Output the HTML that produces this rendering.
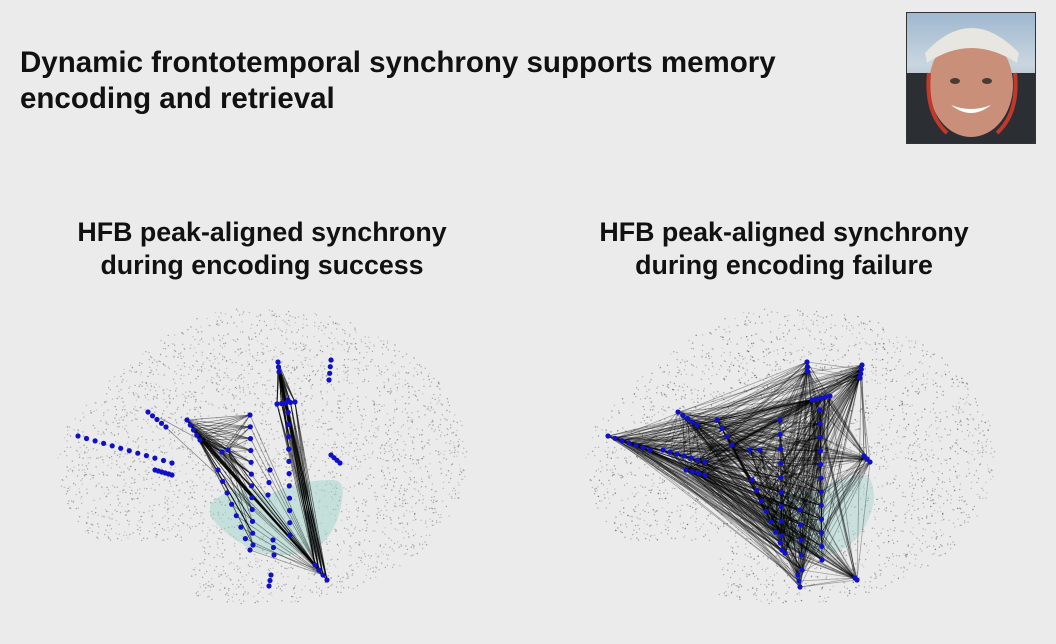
<!DOCTYPE html>
<html><head><meta charset="utf-8"><style>
html,body{margin:0;padding:0}
body{width:1056px;height:644px;background:#ebebeb;position:relative;overflow:hidden;font-family:"Liberation Sans",sans-serif}
.t{position:absolute;left:20px;top:45px;font-size:29.5px;font-weight:bold;color:#111;line-height:36px;white-space:nowrap}
.s{position:absolute;width:480px;text-align:center;font-size:26.8px;font-weight:bold;color:#111;line-height:33px;top:216px;white-space:nowrap}
#ph{position:absolute;left:906px;top:12px;width:130px;height:132px;border:1px solid #333;box-sizing:border-box;background:linear-gradient(#9fb8cf,#c9d6e0 40%,#6a6f74);overflow:hidden}
svg{position:absolute;left:0;top:0}
</style></head><body>
<div class="t">Dynamic frontotemporal synchrony supports memory<br>encoding and retrieval</div>
<div class="s" style="left:22px">HFB peak-aligned synchrony<br>during encoding success</div>
<div class="s" style="left:544px">HFB peak-aligned synchrony<br>during encoding failure</div>
<div id="ph">
<svg width="130" height="132" viewBox="0 0 130 132">
<rect x="0" y="60" width="130" height="72" fill="#2b2f33"/>
<ellipse cx="64" cy="72" rx="42" ry="52" fill="#c98f78"/>
<path d="M18 40 Q64 -10 112 40 L110 50 Q64 20 20 50Z" fill="#e8e6e0"/>
<path d="M22 60 Q18 100 40 120 M108 60 Q112 100 90 120" stroke="#c0392b" stroke-width="4" fill="none"/>
<path d="M44 92 Q64 108 84 92 Q64 100 44 92Z" fill="#fff"/>
<ellipse cx="48" cy="68" rx="5" ry="3" fill="#4a3a30"/><ellipse cx="80" cy="68" rx="5" ry="3" fill="#4a3a30"/>
</svg></div>
<svg id="g" width="1056" height="644"></svg>
<script>
var s=1234567;function r(){s=(s*1103515245+12345)%2147483648;return s/2147483648;}
var g=document.getElementById('g'),h=[];
function brain(cx,cy){
 for(var i=0;i<3200;i++){var x=r()*2-1,y=r()*2-1;
  var top = x>-0.3? 1:1-(( -0.3-x)*0.5);
  if(x*x+ (y<0? (y/top)*(y/top): y*y*1.05)>1) {i--;continue;}
  if(y>0.55 && x<-0.35) {i--;continue;}
  var px=cx+x*205, py=cy+y*150;
  h.push('<circle cx="'+px.toFixed(1)+'" cy="'+py.toFixed(1)+'" r="0.7" fill="#666" opacity="'+(0.25+r()*0.4).toFixed(2)+'"/>');}
}
brain(262,458);brain(790,458);
h.push('<path d="M210 505 Q232 480 268 495 Q300 480 330 480 Q346 478 342 500 Q338 530 318 548 Q290 560 258 552 Q222 535 210 515Z" fill="#9fd3cc" opacity="0.5"/>');
h.push('<path d="M760 505 Q785 485 815 490 Q845 475 868 475 Q880 495 868 520 Q855 550 825 555 Q790 555 765 530Z" fill="#9fd3cc" opacity="0.45"/>');
function strip(a,b,c,n,arr){for(var i=0;i<n;i++){var t=n>1?i/(n-1):0;arr.push([a+(c[0]-a)*t,b+(c[1]-b)*t]);}}
function drawNodes(arr){arr.forEach(function(p){h.push('<circle cx="'+p[0].toFixed(1)+'" cy="'+p[1].toFixed(1)+'" r="2.6" fill="#1010c8"/>');});}
function line(p,q,o){h.push('<line x1="'+p[0].toFixed(1)+'" y1="'+p[1].toFixed(1)+'" x2="'+q[0].toFixed(1)+'" y2="'+q[1].toFixed(1)+'" stroke="#000" stroke-width="0.8" opacity="'+o+'"/>');}
var iso=[];
strip(78,436,[172,463],12,iso);strip(148,412,[166,427],5,iso);strip(155,470,[172,475],6,iso);
strip(331,360,[329,380],4,iso);strip(331,455,[340,463],4,iso);strip(271,575,[269,586],3,iso);
var cl=[];strip(187,420,[200,440],5,cl);
var v1=[];strip(250,415,[253,545],12,v1);
var v2=[];strip(288,400,[290,535],12,v2);
var ap=[];strip(278,362,[279,372],3,ap);
var bar=[];strip(277,404,[295,402],5,bar);
var dg=[];strip(218,470,[250,550],8,dg);
var bt=[];strip(315,565,[327,580],4,bt);
var hub=[[222,452],[228,450]];
var sm=[];strip(270,470,[268,495],3,sm);strip(273,540,[274,555],3,sm);
var grpA=cl.concat(hub);
grpA.forEach(function(p){v1.forEach(function(q){if(r()<0.7)line(p,q,0.45);});bt.forEach(function(q){line(p,q,0.4);});grpA.forEach(function(q){if(r()<0.5)line(p,q,0.5);});});
ap.forEach(function(p){bt.forEach(function(q){line(p,q,0.6);});bar.forEach(function(q){line(p,q,0.7);});v2.slice(0,5).forEach(function(q){line(p,q,0.5);});});
bar.forEach(function(p){bt.forEach(function(q){line(p,q,0.55);});});
v1.forEach(function(p){if(r()<0.5)line(p,bt[1],0.4);});
dg.forEach(function(p){if(r()<0.5)line(p,bt[2],0.4);});
line(iso[15],bt[0],0.4);line([160,418],[222,452],0.4);
[iso,cl,v1,v2,ap,bar,dg,bt,hub,sm].forEach(drawNodes);
var R=[];
strip(608,436,[650,450],7,R);strip(663,450,[705,462],7,R);strip(678,412,[697,425],5,R);
strip(717,420,[732,445],4,R);strip(686,470,[705,475],4,R);strip(750,450,[760,450],2,R);
strip(807,362,[808,372],3,R);strip(812,400,[830,396],5,R);strip(820,410,[822,560],12,R);
strip(780,420,[782,550],10,R);strip(752,480,[785,553],8,R);strip(862,365,[860,378],4,R);
strip(864,456,[870,462],3,R);strip(798,575,[800,587],3,R);strip(855,578,[857,580],2,R);
strip(800,510,[802,570],5,R);
for(var i=0;i<R.length;i++)for(var j=i+1;j<R.length;j++){var d=Math.hypot(R[i][0]-R[j][0],R[i][1]-R[j][1]);if(d>25&&r()<0.28)line(R[i],R[j],0.32);}
drawNodes(R);
g.innerHTML=h.join('');
</script>
</body></html>
